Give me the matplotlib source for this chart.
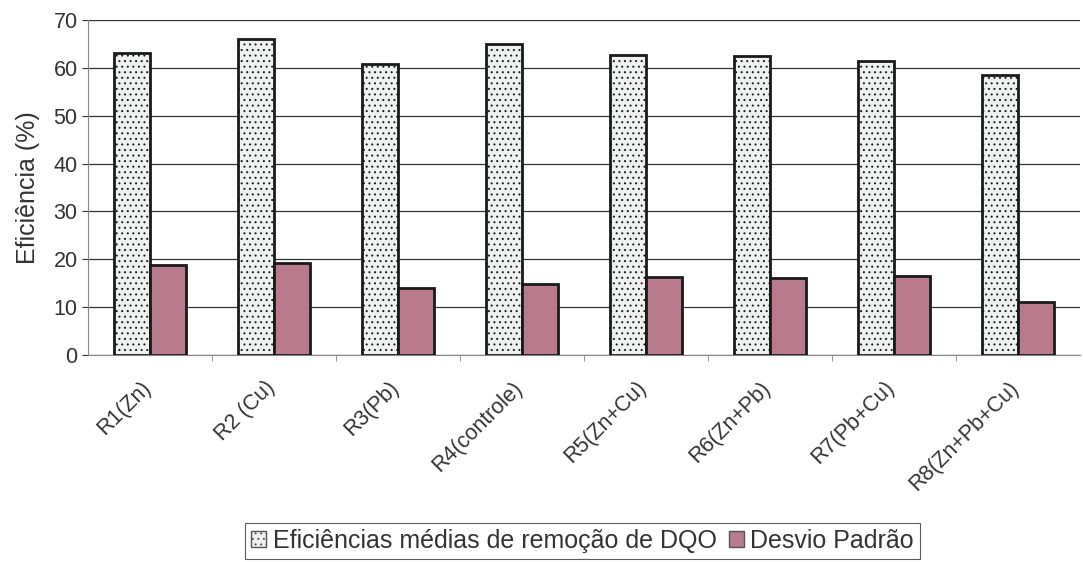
import numpy as np
import matplotlib.pyplot as plt
import matplotlib.transforms as mtransforms
from matplotlib.patches import Patch

# efficiency data per reactor
reactors = ['R1(Zn)', 'R2 (Cu)', 'R3(Pb)', 'R4(controle)', 'R5(Zn+Cu)',
            'R6(Zn+Pb)', 'R7(Pb+Cu)', 'R8(Zn+Pb+Cu)']
eficiencia = [63.2, 66.0, 60.9, 65.0, 62.6, 62.5, 61.5, 58.6]
desvio = [18.8, 19.3, 14.1, 14.8, 16.2, 16.0, 16.5, 11.1]

plt.rcParams['font.family'] = ['Liberation Sans', 'DejaVu Sans']
plt.rcParams['hatch.color'] = '#b4b4b4'
plt.rcParams['hatch.linewidth'] = 0.7

fig = plt.figure(figsize=(10.83, 5.62), dpi=100)
ax = fig.add_axes([0.0813, 0.3683, 0.916, 0.5961])

x = np.arange(len(reactors))
w = 0.29
ax.bar(x - w/2, eficiencia, w, color='#eef1ef', edgecolor='#1a1a1a',
       linewidth=2, hatch='...', zorder=3)
ax.bar(x + w/2, desvio, w, color='#b97a8e', edgecolor='#1a1a1a',
       linewidth=2, zorder=3)

ax.set_xlim(-0.5, len(reactors) - 0.5)
ax.set_ylim(0, 70)
ax.set_yticks(range(0, 71, 10))
ax.yaxis.grid(True, color='#333333', linewidth=0.9, zorder=0)
ax.set_axisbelow(True)

for s in ['top', 'right']:
    ax.spines[s].set_visible(False)
ax.spines['left'].set_color('#888888')
ax.spines['bottom'].set_color('#888888')

ax.tick_params(axis='y', labelsize=15.5, colors='#333333', length=4, width=0.8)
ax.set_xticks(x)
ax.set_xticklabels(reactors, rotation=45, ha='right', rotation_mode='anchor',
                   fontsize=15.5, color='#333333')
ax.tick_params(axis='x', length=0, pad=16)
# nudge the slanted labels a little to the left
shift = mtransforms.ScaledTranslation(-10/100, 0, fig.dpi_scale_trans)
for lbl in ax.get_xticklabels():
    lbl.set_transform(lbl.get_transform() + shift)
ax.set_xticks(np.arange(0.5, len(reactors) - 0.5, 1), minor=True)
ax.tick_params(axis='x', which='minor', length=4, color='#888888')

ax.set_ylabel('Eficiência (%)', fontsize=18, color='#333333', labelpad=10)

handles = [Patch(facecolor='#eef1ef', edgecolor='#555555', hatch='...'),
           Patch(facecolor='#b97a8e', edgecolor='#555555')]
leg = fig.legend(handles, ['Eficiências médias de remoção de DQO', 'Desvio Padrão'],
                 loc='center', bbox_to_anchor=(0.538, 0.037), ncol=2,
                 fontsize=18, frameon=True, fancybox=False, handlelength=0.6,
                 handleheight=0.6, handletextpad=0.25, columnspacing=0.5,
                 borderpad=0.25, labelcolor='#333333')
leg.get_frame().set_edgecolor('#333333')
leg.get_frame().set_linewidth(0.8)

fig.savefig('out.png', dpi=100)
